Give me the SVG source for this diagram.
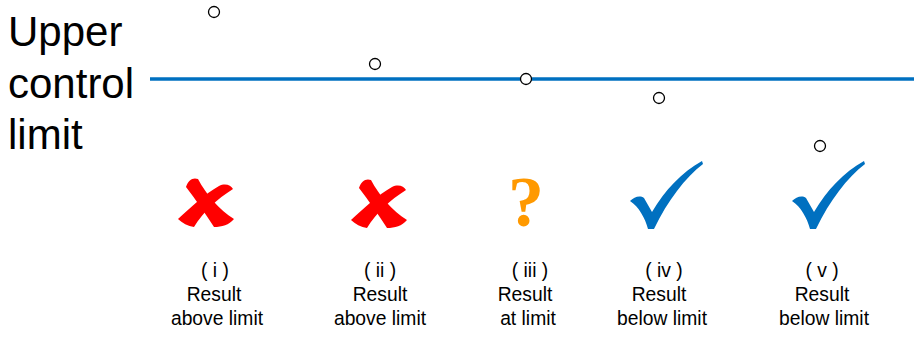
<svg xmlns="http://www.w3.org/2000/svg" width="914" height="338" viewBox="0 0 914 338">
<style>
.big{font-family:"Liberation Sans",Arial,sans-serif;font-size:42px;fill:#000}
.lab{font-family:"Liberation Sans",Arial,sans-serif;font-size:19.3px;fill:#000;text-anchor:middle}
.pt{fill:#fff;stroke:#000;stroke-width:1.3}
.x{fill:#ff0000}
.ck{fill:#0070c0}
</style>
<defs>
<g id="xmark">
<path d="M186,187 C188,180 193,177 198,179 C206,194 219,210 234,219 C229,225 222,227 214,227 C205,213 196,200 186,187 Z"/>
<path d="M219,186 C225,183 231,185 233,189 C217,199 203,212 194,227 C188,226 182,223 178,219 C191,207 205,194 219,186 Z"/>
</g>
<path id="check" d="M630,201 C634,197 640,195 644,198 L652,212 C665,190 682,172 702,161 L703,164 C685,178 668,200 654,229 L648,229 C645,218 639,207 630,201 Z"/>
</defs>
<g id="label-ucl">
<text class="big" x="8" y="46">Upper</text>
<text class="big" x="8" y="98">control</text>
<text class="big" x="8" y="149">limit</text>
</g>
<g id="connectors">
<line x1="150" y1="79" x2="914" y2="79" stroke="#0070c0" stroke-width="3.5"/>
</g>
<g id="points">
<circle class="pt" cx="214" cy="12" r="5.5"/>
<circle class="pt" cx="375" cy="64" r="5.5"/>
<circle class="pt" cx="526" cy="79" r="5.5"/>
<circle class="pt" cx="659" cy="98" r="5.5"/>
<circle class="pt" cx="820" cy="146" r="5.5"/>
</g>
<g id="case-i">
<use href="#xmark" class="x"/>
<text class="lab" x="215" y="277">( i )</text>
<text class="lab" x="214" y="301">Result</text>
<text class="lab" x="217" y="325">above limit</text>
</g>
<g id="case-ii">
<use href="#xmark" class="x" transform="translate(173,1)"/>
<text class="lab" x="380" y="277">( ii )</text>
<text class="lab" x="380" y="301">Result</text>
<text class="lab" x="380" y="325">above limit</text>
</g>
<g id="case-iii">
<text x="526" y="226" text-anchor="middle" font-family="'Liberation Serif','Times New Roman',serif" font-weight="bold" font-size="72" fill="#ff9900">?</text>
<text class="lab" x="530" y="277">( iii )</text>
<text class="lab" x="525" y="301">Result</text>
<text class="lab" x="528" y="325">at limit</text>
</g>
<g id="case-iv">
<use href="#check" class="ck"/>
<text class="lab" x="664" y="277">( iv )</text>
<text class="lab" x="659" y="301">Result</text>
<text class="lab" x="662" y="325">below limit</text>
</g>
<g id="case-v">
<use href="#check" class="ck" transform="translate(162,0)"/>
<text class="lab" x="822" y="277">( v )</text>
<text class="lab" x="822" y="301">Result</text>
<text class="lab" x="824" y="325">below limit</text>
</g>
</svg>
